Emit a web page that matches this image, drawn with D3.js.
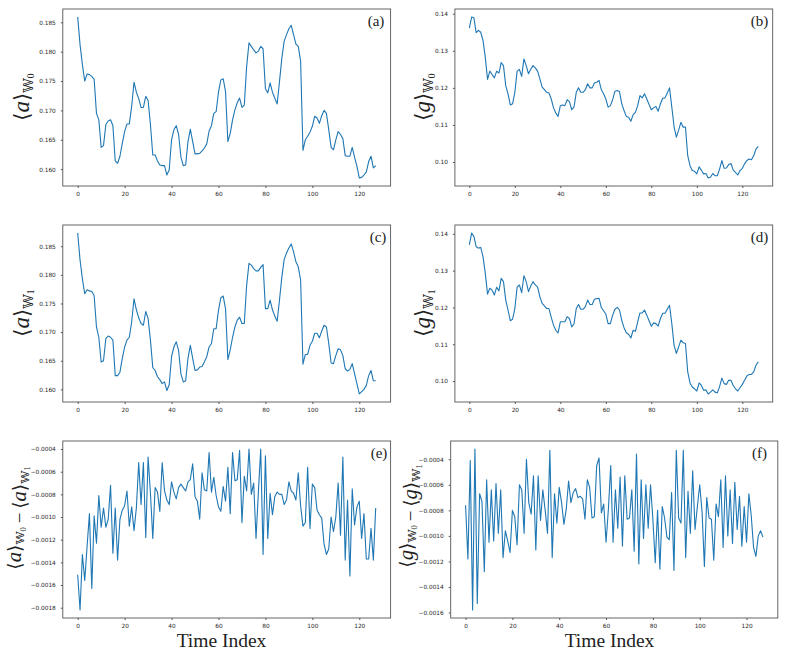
<!DOCTYPE html>
<html>
<head>
<meta charset="utf-8">
<script src="https://cdn.jsdelivr.net/npm/d3@7"></script>
<style>
	body { margin: 0; background: #fff; }
	.tick text { font-family: 'DejaVu Sans', sans-serif; fill: #262626; }
	.tick line { stroke: #555; }
</style>
</head>
<body>
<div id="chart-area"></div>
<script>
// Data, one value per time index 0..127
const aW0 = [
	0.1859, 0.1812, 0.1778, 0.1750, 0.1762, 0.1761, 0.1758, 0.1753, 0.1695, 0.1684,
	0.1637, 0.1640, 0.1676, 0.1682, 0.1684, 0.1674, 0.1614, 0.1610, 0.1622, 0.1644,
	0.1664, 0.1677, 0.1677, 0.1707, 0.1748, 0.1731, 0.1720, 0.1705, 0.1705, 0.1724,
	0.1717, 0.1676, 0.1624, 0.1624, 0.1614, 0.1607, 0.1606, 0.1606, 0.1590, 0.1599,
	0.1650, 0.1667, 0.1674, 0.1659, 0.1620, 0.1606, 0.1607, 0.1647, 0.1668, 0.1647,
	0.1626, 0.1626, 0.1627, 0.1631, 0.1636, 0.1643, 0.1665, 0.1674, 0.1695, 0.1698,
	0.1731, 0.1752, 0.1754, 0.1732, 0.1647, 0.1661, 0.1684, 0.1701, 0.1713, 0.1721,
	0.1705, 0.1709, 0.1775, 0.1815, 0.1809, 0.1803, 0.1798, 0.1801, 0.1809, 0.1805,
	0.1737, 0.1730, 0.1747, 0.1731, 0.1721, 0.1711, 0.1749, 0.1789, 0.1818, 0.1829,
	0.1839, 0.1845, 0.1829, 0.1813, 0.1809, 0.1784, 0.1632, 0.1650, 0.1656, 0.1663,
	0.1673, 0.1690, 0.1687, 0.1678, 0.1691, 0.1700, 0.1695, 0.1667, 0.1637, 0.1633,
	0.1650, 0.1664, 0.1659, 0.1652, 0.1623, 0.1622, 0.1622, 0.1637, 0.1620, 0.1605,
	0.1585, 0.1586, 0.1590, 0.1595, 0.1613, 0.1622, 0.1602, 0.1606
]
const gW0 = [
	0.1361, 0.1391, 0.1389, 0.1349, 0.1355, 0.1350, 0.1328, 0.1283, 0.1223, 0.1245,
	0.1236, 0.1227, 0.1245, 0.1240, 0.1268, 0.1260, 0.1206, 0.1184, 0.1154, 0.1157,
	0.1188, 0.1245, 0.1250, 0.1231, 0.1278, 0.1260, 0.1238, 0.1250, 0.1260, 0.1254,
	0.1245, 0.1224, 0.1202, 0.1195, 0.1188, 0.1186, 0.1170, 0.1146, 0.1132, 0.1123,
	0.1152, 0.1154, 0.1152, 0.1168, 0.1163, 0.1141, 0.1148, 0.1188, 0.1200, 0.1188,
	0.1188, 0.1195, 0.1211, 0.1200, 0.1200, 0.1213, 0.1215, 0.1220, 0.1195, 0.1184,
	0.1170, 0.1148, 0.1152, 0.1168, 0.1191, 0.1193, 0.1190, 0.1157, 0.1139, 0.1123,
	0.1121, 0.1110, 0.1128, 0.1134, 0.1152, 0.1179, 0.1173, 0.1184, 0.1170, 0.1155,
	0.1141, 0.1146, 0.1150, 0.1137, 0.1157, 0.1172, 0.1173, 0.1186, 0.1200, 0.1148,
	0.1095, 0.1067, 0.1086, 0.1107, 0.1094, 0.1094, 0.1017, 0.0990, 0.0977, 0.0975,
	0.0968, 0.0987, 0.0978, 0.0968, 0.0969, 0.0957, 0.0959, 0.0969, 0.0963, 0.0963,
	0.0981, 0.1004, 0.0983, 0.0984, 0.0993, 0.0996, 0.0978, 0.0972, 0.0965, 0.0977,
	0.0983, 0.0995, 0.1004, 0.1008, 0.1006, 0.1017, 0.1035, 0.1042
]
const aW1 = [
	0.1873, 0.1826, 0.1793, 0.1767, 0.1774, 0.1772, 0.1771, 0.1764, 0.1709, 0.1691,
	0.1648, 0.1650, 0.1689, 0.1693, 0.1691, 0.1686, 0.1624, 0.1624, 0.1630, 0.1654,
	0.1674, 0.1686, 0.1691, 0.1718, 0.1758, 0.1739, 0.1725, 0.1715, 0.1712, 0.1736,
	0.1724, 0.1686, 0.1638, 0.1633, 0.1622, 0.1617, 0.1610, 0.1613, 0.1598, 0.1608,
	0.1657, 0.1674, 0.1683, 0.1668, 0.1627, 0.1613, 0.1615, 0.1654, 0.1677, 0.1654,
	0.1633, 0.1634, 0.1639, 0.1640, 0.1648, 0.1657, 0.1674, 0.1680, 0.1706, 0.1706,
	0.1738, 0.1760, 0.1763, 0.1741, 0.1652, 0.1669, 0.1691, 0.1709, 0.1721, 0.1726,
	0.1715, 0.1715, 0.1782, 0.1820, 0.1817, 0.1811, 0.1807, 0.1807, 0.1813, 0.1818,
	0.1741, 0.1741, 0.1756, 0.1739, 0.1728, 0.1719, 0.1756, 0.1796, 0.1827, 0.1838,
	0.1847, 0.1854, 0.1840, 0.1823, 0.1814, 0.1791, 0.1644, 0.1661, 0.1661, 0.1677,
	0.1684, 0.1698, 0.1698, 0.1690, 0.1702, 0.1712, 0.1709, 0.1680, 0.1646, 0.1645,
	0.1659, 0.1671, 0.1669, 0.1659, 0.1636, 0.1632, 0.1635, 0.1645, 0.1627, 0.1610,
	0.1592, 0.1596, 0.1600, 0.1607, 0.1624, 0.1633, 0.1615, 0.1615
]
const gW1 = [
	0.1370, 0.1402, 0.1393, 0.1365, 0.1361, 0.1363, 0.1338, 0.1293, 0.1236, 0.1252,
	0.1247, 0.1234, 0.1255, 0.1245, 0.1279, 0.1270, 0.1220, 0.1193, 0.1164, 0.1168,
	0.1197, 0.1255, 0.1261, 0.1240, 0.1286, 0.1270, 0.1243, 0.1258, 0.1270, 0.1261,
	0.1255, 0.1229, 0.1211, 0.1204, 0.1197, 0.1197, 0.1173, 0.1152, 0.1138, 0.1131,
	0.1161, 0.1161, 0.1161, 0.1175, 0.1170, 0.1147, 0.1155, 0.1197, 0.1208, 0.1195,
	0.1195, 0.1202, 0.1220, 0.1208, 0.1208, 0.1222, 0.1224, 0.1225, 0.1200, 0.1191,
	0.1182, 0.1156, 0.1156, 0.1179, 0.1195, 0.1200, 0.1193, 0.1165, 0.1145, 0.1131,
	0.1127, 0.1117, 0.1138, 0.1135, 0.1161, 0.1185, 0.1185, 0.1193, 0.1179, 0.1164,
	0.1149, 0.1158, 0.1156, 0.1149, 0.1170, 0.1184, 0.1184, 0.1195, 0.1206, 0.1156,
	0.1097, 0.1075, 0.1093, 0.1111, 0.1104, 0.1102, 0.1025, 0.0995, 0.0984, 0.0979,
	0.0973, 0.0995, 0.0988, 0.0975, 0.0976, 0.0965, 0.0970, 0.0976, 0.0970, 0.0968,
	0.0985, 0.1008, 0.0993, 0.0991, 0.1002, 0.1002, 0.0988, 0.0979, 0.0973, 0.0982,
	0.0991, 0.1002, 0.1014, 0.1018, 0.1018, 0.1025, 0.1043, 0.1052
]
const aDiff = [
	-0.00151, -0.00182, -0.00133, -0.00156, -0.00126, -0.00097, -0.00163, -0.00099, -0.00123, -0.00081,
	-0.00109, -0.00092, -0.00109, -0.00102, -0.00072, -0.00132, -0.00092, -0.00138, -0.00102, -0.00094,
	-0.00090, -0.00077, -0.00108, -0.00091, -0.00112, -0.00092, -0.00052, -0.00089, -0.00052, -0.00118,
	-0.00047, -0.00079, -0.00119, -0.00074, -0.00078, -0.00095, -0.00052, -0.00077, -0.00085, -0.00089,
	-0.00069, -0.00078, -0.00084, -0.00074, -0.00071, -0.00074, -0.00077, -0.00069, -0.00067, -0.00053,
	-0.00082, -0.00086, -0.00102, -0.00061, -0.00076, -0.00077, -0.00043, -0.00078, -0.00065, -0.00081,
	-0.00091, -0.00095, -0.00073, -0.00086, -0.00056, -0.00097, -0.00043, -0.00068, -0.00067, -0.00041,
	-0.00105, -0.00064, -0.00077, -0.00040, -0.00080, -0.00070, -0.00119, -0.00078, -0.00040, -0.00133,
	-0.00046, -0.00119, -0.00079, -0.00098, -0.00082, -0.00078, -0.00080, -0.00080, -0.00089, -0.00085,
	-0.00069, -0.00077, -0.00079, -0.00085, -0.00061, -0.00090, -0.00108, -0.00105, -0.00056, -0.00110,
	-0.00071, -0.00074, -0.00094, -0.00098, -0.00101, -0.00124, -0.00133, -0.00128, -0.00100, -0.00113,
	-0.00100, -0.00070, -0.00116, -0.00047, -0.00138, -0.00085, -0.00152, -0.00075, -0.00107, -0.00091,
	-0.00086, -0.00119, -0.00097, -0.00137, -0.00137, -0.00110, -0.00138, -0.00092
]
const gDiff = [
	-0.00076, -0.00118, -0.00041, -0.00158, -0.00032, -0.00153, -0.00067, -0.00073, -0.00128, -0.00056,
	-0.00105, -0.00064, -0.00104, -0.00059, -0.00098, -0.00064, -0.00117, -0.00096, -0.00104, -0.00113,
	-0.00080, -0.00085, -0.00107, -0.00060, -0.00064, -0.00098, -0.00040, -0.00074, -0.00083, -0.00053,
	-0.00111, -0.00053, -0.00088, -0.00064, -0.00080, -0.00098, -0.00033, -0.00117, -0.00067, -0.00090,
	-0.00062, -0.00074, -0.00091, -0.00079, -0.00057, -0.00074, -0.00066, -0.00063, -0.00070, -0.00069,
	-0.00071, -0.00087, -0.00056, -0.00062, -0.00086, -0.00085, -0.00045, -0.00039, -0.00082, -0.00075,
	-0.00105, -0.00079, -0.00045, -0.00105, -0.00064, -0.00094, -0.00054, -0.00108, -0.00053, -0.00087,
	-0.00086, -0.00064, -0.00112, -0.00036, -0.00122, -0.00056, -0.00102, -0.00060, -0.00094, -0.00060,
	-0.00087, -0.00121, -0.00080, -0.00126, -0.00077, -0.00086, -0.00101, -0.00103, -0.00066, -0.00127,
	-0.00033, -0.00086, -0.00090, -0.00033, -0.00117, -0.00065, -0.00098, -0.00049, -0.00095, -0.00077,
	-0.00060, -0.00081, -0.00124, -0.00070, -0.00086, -0.00087, -0.00119, -0.00075, -0.00085, -0.00056,
	-0.00109, -0.00053, -0.00100, -0.00064, -0.00106, -0.00058, -0.00095, -0.00069, -0.00108, -0.00077,
	-0.00105, -0.00067, -0.00084, -0.00109, -0.00116, -0.00100, -0.00096, -0.00101
]

// Tick labels
const xTicks = [0, 20, 40, 60, 80, 100, 120]
const aTicks = [0.160, 0.165, 0.170, 0.175, 0.180, 0.185]
const gTicks = [0.10, 0.11, 0.12, 0.13, 0.14]
const aDiffTicks = [-0.0018, -0.0016, -0.0014, -0.0012, -0.0010, -0.0008, -0.0006, -0.0004]
const gDiffTicks = [-0.0016, -0.0014, -0.0012, -0.0010, -0.0008, -0.0006, -0.0004]
const panelTags = ['(a)', '(b)', '(c)', '(d)', '(e)', '(f)']

const canvas = { width: 789, height: 656 }
const plotHeight = 177
const serif = "'Liberation Serif', 'DejaVu Serif', serif"

let svg = d3.select('#chart-area')
	.append('svg')
		.attr('width', canvas.width)
		.attr('height', canvas.height)

// y label pieces: bracket term with blackboard subscript, k scales it
function term(letter, sub, k = 1) {
	return [
		{ t: '\u27E8', size: 21 * k },
		{ t: letter, size: 23 * k, italic: true },
		{ t: '\u27E9', size: 21 * k },
		{ t: '\uD835\uDD4E', size: 13 * k, dy: 3.5 * k },
		{ t: sub, size: 9.5 * k, dy: 1.5 * k },
		{ t: '', size: 21 * k, dy: -5 * k }
	]
}
const minus = [{ t: '\u2009\u2212\u2009', size: 19 }]

const panels = [
	{ values: aW0, ticks: aTicks, fmt: '.3f', left: 62.8, width: 327.8, top: 9,
		label: term('a', '0'), labelX: 29, labelY: 97, tagX: 376 },
	{ values: gW0, ticks: gTicks, fmt: '.2f', left: 454.9, width: 317.8, top: 9,
		label: term('g', '0'), labelX: 429.5, labelY: 97, tagX: 759.5 },
	{ values: aW1, ticks: aTicks, fmt: '.3f', left: 62.8, width: 327.8, top: 225,
		label: term('a', '1'), labelX: 29, labelY: 313, tagX: 378 },
	{ values: gW1, ticks: gTicks, fmt: '.2f', left: 454.9, width: 317.8, top: 225,
		label: term('g', '1'), labelX: 429.5, labelY: 313, tagX: 759.5 },
	{ values: aDiff, ticks: aDiffTicks, fmt: '.4f', left: 62.8, width: 327.8, top: 441,
		label: term('a', '0', 0.9).concat(minus, term('a', '1', 0.9)),
		labelX: 21, labelY: 518, tagX: 379 },
	{ values: gDiff, ticks: gDiffTicks, fmt: '.4f', left: 450.7, width: 327.1, top: 441,
		label: term('g', '0', 0.9).concat(minus, term('g', '1', 0.9)),
		labelX: 412.5, labelY: 516, tagX: 759.5 }
]

panels.forEach((p, i) => drawPanel(p, panelTags[i]))

function drawPanel(p, tag) {
	let g = svg.append('g')
		.attr('transform', `translate(${p.left}, ${p.top})`)

	// Scales (matplotlib style 5% margins)
	let x = d3.scaleLinear()
		.domain([-6.35, 133.35])
		.range([0, p.width])
	let ext = d3.extent(p.values)
	let pad = (ext[1] - ext[0]) * 0.05
	let y = d3.scaleLinear()
		.domain([ext[0] - pad, ext[1] + pad])
		.range([plotHeight, 0])

	// Axes
	let xAxis = d3.axisBottom(x)
		.tickValues(xTicks)
		.tickSize(2)
		.tickPadding(4)
	g.append('g')
		.attr('transform', `translate(0, ${plotHeight})`)
		.call(xAxis)
		.call(a => a.select('.domain').remove())
		.selectAll('text').attr('font-size', 5.8)
	let yAxis = d3.axisLeft(y)
		.tickValues(p.ticks)
		.tickFormat(d3.format(p.fmt))
		.tickSize(2)
		.tickPadding(5)
	g.append('g')
		.call(yAxis)
		.call(a => a.select('.domain').remove())
		.selectAll('text').attr('font-size', 5.8)

	// Series
	let line = d3.line()
		.x((d, j) => x(j))
		.y(d => y(d))
	g.append('path')
		.datum(p.values)
		.attr('d', line)
		.attr('fill', 'none')
		.attr('stroke', '#1f77b4')
		.attr('stroke-width', 1.1)
		.attr('stroke-linejoin', 'round')

	// Frame
	g.append('rect')
		.attr('width', p.width)
		.attr('height', plotHeight)
		.attr('fill', 'none')
		.attr('stroke', '#555')
		.attr('stroke-width', 0.9)

	// Panel tag
	svg.append('text')
		.attr('x', p.tagX)
		.attr('y', p.top + 17)
		.attr('text-anchor', 'middle')
		.attr('font-family', serif)
		.attr('font-size', 15)
		.attr('fill', '#222')
		.text(tag)

	// y label
	let lab = svg.append('text')
		.attr('transform', `translate(${p.labelX}, ${p.labelY}) rotate(-90)`)
		.attr('text-anchor', 'middle')
		.attr('font-family', serif)
		.attr('fill', '#222')
	p.label.forEach(s => {
		lab.append('tspan')
			.attr('font-size', s.size)
			.attr('font-style', s.italic ? 'italic' : null)
			.attr('dy', s.dy || null)
			.text(s.t)
	})
}

// x labels under the bottom row
svg.append('text')
	.attr('x', 221.5)
	.attr('y', 647)
	.attr('text-anchor', 'middle')
	.attr('font-family', serif)
	.attr('font-size', 19.5)
	.attr('fill', '#222')
	.text('Time Index')
svg.append('text')
	.attr('x', 609.5)
	.attr('y', 647)
	.attr('text-anchor', 'middle')
	.attr('font-family', serif)
	.attr('font-size', 19.5)
	.attr('fill', '#222')
	.text('Time Index')
</script>
</body>
</html>
